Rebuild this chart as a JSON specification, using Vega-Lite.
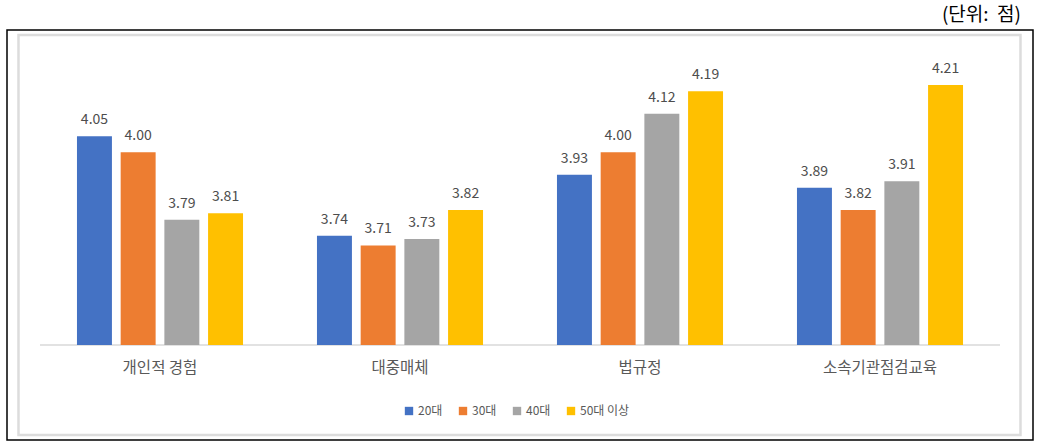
{
  "$schema": "https://vega.github.io/schema/vega-lite/v6.json",
  "width": 1026,
  "height": 410,
  "autosize": {"type": "none"},
  "padding": {"left": 7, "top": 30, "right": 11, "bottom": 3},
  "background": "white",
  "config": {
    "view": {"stroke": "#000000", "strokeWidth": 1.5},
    "font": "Noto Sans CJK KR"
  },
  "title": {
    "text": "(단위:\u00a0\u00a0점)",
    "anchor": "end",
    "fontSize": 19,
    "fontWeight": "normal",
    "color": "#000000",
    "font": "Noto Sans CJK KR",
    "offset": 5,
    "dx": -12
  },
  "data": {
    "values": [
      {"cat": "개인적 경험", "age": "20대", "value": 4.05},
      {"cat": "개인적 경험", "age": "30대", "value": 4.00},
      {"cat": "개인적 경험", "age": "40대", "value": 3.79},
      {"cat": "개인적 경험", "age": "50대 이상", "value": 3.81},
      {"cat": "대중매체", "age": "20대", "value": 3.74},
      {"cat": "대중매체", "age": "30대", "value": 3.71},
      {"cat": "대중매체", "age": "40대", "value": 3.73},
      {"cat": "대중매체", "age": "50대 이상", "value": 3.82},
      {"cat": "법규정", "age": "20대", "value": 3.93},
      {"cat": "법규정", "age": "30대", "value": 4.00},
      {"cat": "법규정", "age": "40대", "value": 4.12},
      {"cat": "법규정", "age": "50대 이상", "value": 4.19},
      {"cat": "소속기관점검교육", "age": "20대", "value": 3.89},
      {"cat": "소속기관점검교육", "age": "30대", "value": 3.82},
      {"cat": "소속기관점검교육", "age": "40대", "value": 3.91},
      {"cat": "소속기관점검교육", "age": "50대 이상", "value": 4.21}
    ]
  },
  "layer": [
    {
      "data": {"values": [{"a": "개인적 경험", "b": "소속기관점검교육"}]},
      "mark": {"type": "rect", "fill": null, "stroke": "#dcdcdc", "strokeWidth": 2.5},
      "encoding": {
        "x": {
          "field": "a",
          "type": "nominal",
          "bandPosition": -0.0896,
          "sort": ["개인적 경험", "대중매체", "법규정", "소속기관점검교육"],
          "scale": {"domain": ["개인적 경험", "대중매체", "법규정", "소속기관점검교육"], "paddingInner": 0, "paddingOuter": 0.1375},
          "axis": {
            "title": null,
            "orient": "bottom",
            "offset": -95,
            "domain": false,
            "ticks": false,
            "labelPadding": 15,
            "labelFontSize": 15.5,
            "labelColor": "#595959",
            "labelFont": "Noto Sans CJK KR",
            "labelAngle": 0
          }
        },
        "x2": {"field": "b", "bandPosition": 1.0854},
        "y": {"datum": 4.3657, "type": "quantitative", "scale": {"domain": [3.104, 4.381], "zero": false, "nice": false}, "axis": null},
        "y2": {"datum": 3.1196}
      }
    },
    {
      "data": {"values": [{"a": "개인적 경험", "b": "소속기관점검교육"}]},
      "mark": {"type": "rule", "stroke": "#d9d9d9", "strokeWidth": 1.5},
      "encoding": {
        "x": {"field": "a", "type": "nominal", "bandPosition": 0},
        "x2": {"field": "b", "bandPosition": 1},
        "y": {"datum": 3.4, "type": "quantitative"}
      }
    },
    {
      "mark": {"type": "bar"},
      "encoding": {
        "x": {"field": "cat", "type": "nominal"},
        "xOffset": {
          "field": "age",
          "type": "nominal",
          "sort": ["20대", "30대", "40대", "50대 이상"],
          "scale": {"paddingInner": 0.2, "paddingOuter": 0.846}
        },
        "y": {"field": "value", "type": "quantitative"},
        "y2": {"datum": 3.4},
        "color": {
          "field": "age",
          "type": "nominal",
          "sort": ["20대", "30대", "40대", "50대 이상"],
          "scale": {"domain": ["20대", "30대", "40대", "50대 이상"], "range": ["#4472C4", "#ED7D31", "#A5A5A5", "#FFC000"]},
          "legend": {
            "title": null,
            "orient": "none",
            "direction": "horizontal",
            "legendX": 396,
            "legendY": 375,
            "symbolType": "square",
            "symbolSize": 70,
            "symbolStrokeWidth": 0,
            "labelFontSize": 12,
            "labelColor": "#595959",
            "labelFont": "Noto Sans CJK KR",
            "columnPadding": 14,
            "padding": 0,
            "symbolOffset": 0,
            "labelOffset": 3
          }
        }
      }
    },
    {
      "mark": {"type": "text", "baseline": "bottom", "dy": -9, "fontSize": 14, "color": "#4d4d4d", "font": "Noto Sans CJK KR"},
      "encoding": {
        "x": {"field": "cat", "type": "nominal"},
        "xOffset": {
          "field": "age",
          "type": "nominal",
          "sort": ["20대", "30대", "40대", "50대 이상"]
        },
        "y": {"field": "value", "type": "quantitative"},
        "text": {"field": "value", "type": "quantitative", "format": ".2f"}
      }
    }
  ]
}
